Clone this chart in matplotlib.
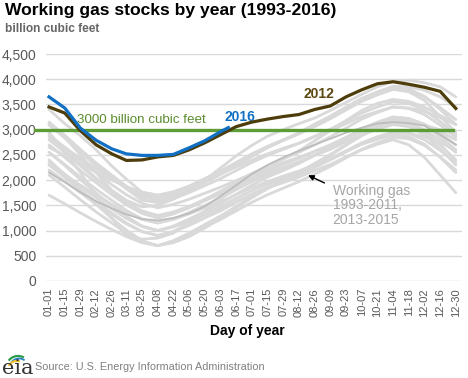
import matplotlib
matplotlib.use('Agg')
import matplotlib.pyplot as plt
import pandas as pd
from matplotlib.patches import Arc

plt.rcParams['font.family'] = ['Liberation Sans', 'DejaVu Sans']

# biweekly sample dates (also used as tick labels)
tick_dates = ['01-01', '01-15', '01-29', '02-12', '02-26', '03-11', '03-25', '04-08', '04-22',
              '05-06', '05-20', '06-03', '06-17', '07-01', '07-15', '07-29', '08-12', '08-26',
              '09-09', '09-23', '10-07', '10-21', '11-04', '11-18', '12-02', '12-16', '12-30']
dates_2016 = tick_dates[:12] + ['06-10']

# working gas in storage, billion cubic feet
gas_1993 = [2150, 1960, 1760, 1580, 1440, 1320, 1230, 1200, 1250, 1340, 1480, 1680, 1900, 2120,
            2300, 2450, 2580, 2700, 2820, 2940, 3040, 3120, 3150, 3130, 3080, 2900, 2700]
gas_1994 = [2300, 2060, 1810, 1570, 1350, 1150, 980, 900, 980, 1100, 1250, 1390, 1560, 1720,
            1860, 1990, 2110, 2250, 2400, 2560, 2720, 2850, 2950, 2930, 2860, 2740, 2600]
gas_1995 = [2550, 2310, 2060, 1820, 1600, 1400, 1230, 1150, 1220, 1330, 1450, 1570, 1710, 1850,
            1970, 2080, 2180, 2310, 2430, 2570, 2710, 2810, 2900, 2860, 2710, 2450, 2150]
gas_1996 = [2100, 1860, 1610, 1370, 1150, 950, 780, 700, 790, 920, 1070, 1220, 1390, 1560,
            1710, 1840, 1970, 2120, 2270, 2440, 2610, 2740, 2850, 2820, 2690, 2460, 2200]
gas_1997 = [2200, 1980, 1750, 1520, 1320, 1130, 980, 900, 980, 1150, 1320, 1480, 1640, 1790,
            1920, 2040, 2160, 2290, 2420, 2580, 2740, 2860, 2950, 2920, 2800, 2590, 2350]
gas_1998 = [2300, 2100, 1900, 1700, 1520, 1360, 1220, 1150, 1230, 1360, 1500, 1640, 1810, 1970,
            2110, 2240, 2360, 2500, 2650, 2810, 2980, 3100, 3200, 3180, 3100, 2960, 2800]
gas_1999 = [2800, 2550, 2280, 2020, 1780, 1570, 1390, 1300, 1370, 1480, 1610, 1730, 1880, 2020,
            2150, 2250, 2360, 2490, 2610, 2760, 2900, 3010, 3100, 3060, 2900, 2620, 2300]
gas_2000 = [2350, 2120, 1880, 1650, 1430, 1240, 1080, 1000, 1070, 1180, 1310, 1430, 1580, 1720,
            1850, 1950, 2060, 2190, 2310, 2460, 2600, 2710, 2800, 2700, 2450, 2100, 1750]
gas_2001 = [1700, 1530, 1350, 1180, 1020, 880, 760, 700, 800, 950, 1120, 1290, 1480, 1680,
            1850, 2000, 2150, 2320, 2490, 2690, 2880, 3030, 3150, 3140, 3090, 3000, 2900]
gas_2002 = [2900, 2650, 2390, 2150, 1910, 1710, 1540, 1450, 1520, 1620, 1740, 1860, 1990, 2130,
            2250, 2350, 2450, 2570, 2690, 2830, 2960, 3070, 3150, 3110, 2960, 2700, 2400]
gas_2003 = [2400, 2110, 1800, 1520, 1240, 1010, 800, 700, 760, 880, 1050, 1240, 1450, 1650,
            1830, 1990, 2150, 2330, 2510, 2700, 2890, 3040, 3150, 3120, 3000, 2790, 2550]
gas_2004 = [2550, 2290, 2010, 1740, 1500, 1280, 1090, 1000, 1090, 1230, 1380, 1540, 1720, 1900,
            2060, 2190, 2330, 2490, 2640, 2820, 3000, 3140, 3250, 3220, 3110, 2920, 2700]
gas_2005 = [2700, 2450, 2190, 1950, 1710, 1510, 1340, 1250, 1330, 1450, 1590, 1730, 1890, 2050,
            2190, 2310, 2430, 2570, 2700, 2850, 3020, 3150, 3250, 3220, 3090, 2860, 2600]
gas_2006 = [2650, 2490, 2320, 2160, 2000, 1870, 1760, 1700, 1770, 1880, 2000, 2120, 2260, 2400,
            2520, 2630, 2730, 2860, 2980, 3120, 3260, 3360, 3450, 3430, 3360, 3240, 3100]
gas_2007 = [3100, 2840, 2560, 2290, 2050, 1830, 1640, 1550, 1630, 1750, 1890, 2030, 2190, 2350,
            2490, 2610, 2730, 2870, 3010, 3170, 3330, 3450, 3550, 3520, 3390, 3160, 2900]
gas_2008 = [2900, 2620, 2320, 2040, 1780, 1550, 1350, 1250, 1340, 1470, 1620, 1780, 1950, 2130,
            2280, 2420, 2550, 2700, 2860, 3030, 3210, 3340, 3450, 3420, 3300, 3090, 2850]
gas_2009 = [2850, 2650, 2430, 2230, 2030, 1870, 1720, 1650, 1740, 1870, 2020, 2170, 2340, 2510,
            2660, 2790, 2920, 3070, 3220, 3390, 3560, 3690, 3800, 3770, 3650, 3440, 3200]
gas_2010 = [3150, 2890, 2610, 2340, 2100, 1880, 1690, 1600, 1690, 1830, 1980, 2140, 2320, 2500,
            2660, 2790, 2930, 3090, 3240, 3420, 3600, 3740, 3850, 3810, 3660, 3400, 3100]
gas_2011 = [3100, 2840, 2560, 2290, 2050, 1830, 1600, 1560, 1650, 1790, 1950, 2110, 2290, 2470,
            2640, 2790, 2940, 3110, 3270, 3450, 3620, 3750, 3860, 3850, 3780, 3650, 3450]
gas_2013 = [3400, 3120, 2880, 2600, 2280, 2020, 1760, 1700, 1760, 1880, 2030, 2180, 2350, 2520,
            2670, 2800, 2920, 3060, 3220, 3400, 3580, 3720, 3800, 3750, 3580, 3260, 2950]
gas_2014 = [2950, 2550, 2150, 1700, 1250, 900, 830, 850, 950, 1150, 1380, 1620, 1850, 2060,
            2250, 2420, 2580, 2780, 2980, 3180, 3380, 3520, 3600, 3560, 3450, 3280, 3100]
gas_2015 = [3100, 2850, 2500, 2150, 1800, 1600, 1470, 1500, 1620, 1800, 2000, 2240, 2480, 2690,
            2870, 3000, 3120, 3230, 3380, 3540, 3700, 3850, 3950, 3980, 3930, 3850, 3650]
gas_2012 = [3450, 3330, 2980, 2700, 2520, 2390, 2400, 2460, 2490, 2600, 2740, 2900, 3060, 3150,
            3210, 3260, 3300, 3400, 3470, 3650, 3790, 3910, 3950, 3900, 3840, 3760, 3420]
gas_2016 = [3650, 3430, 3030, 2790, 2620, 2520, 2490, 2490, 2510, 2640, 2780, 2960, 3040]

gray_years = [gas_1994, gas_1995, gas_1996, gas_1997, gas_1998, gas_1999, gas_2000, gas_2001,
              gas_2002, gas_2003, gas_2004, gas_2005, gas_2006, gas_2007, gas_2008, gas_2009,
              gas_2010, gas_2011, gas_2013, gas_2014, gas_2015]
ref_level = 3000
y_ticks = [0, 500, 1000, 1500, 2000, 2500, 3000, 3500, 4000, 4500]


def day_of_year(mmdd):
    return pd.to_datetime(['2001-' + d for d in mmdd]).dayofyear - 1


days = day_of_year(tick_dates)
days_2016 = day_of_year(dates_2016)

W, H = 468, 378
fig = plt.figure(figsize=(W / 100, H / 100), dpi=100)
ax = fig.add_axes([46 / W, 1 - 281 / H, 416 / W, 227 / H])

# gray bundle of past years
for vals in gray_years:
    ax.plot(days, vals, color='#d9d9d9', lw=2.0, solid_capstyle='round', zorder=2)
ax.plot(days, gas_1993, color='#bdbdbd', lw=1.3, zorder=2)

ax.axhline(ref_level, xmin=-0.027, xmax=0.978, color='#5e9c35', lw=2.4, clip_on=False, zorder=3)
ax.plot(days, gas_2012, color='#4d3d0b', lw=2.3, zorder=4)
ax.plot(days_2016, gas_2016, color='#1170c4', lw=2.3, zorder=5)

ax.set_xlim(-2.7, 368.5)
ax.set_ylim(0, 4500)
ax.set_xticks(days)
ax.set_xticklabels(tick_dates, rotation=90, fontsize=8, color='#595959')
ax.set_yticks(y_ticks)
ax.set_yticklabels([f'{v:,}' for v in y_ticks], fontsize=10, color='#595959')
ax.tick_params(length=0)
ax.tick_params(axis='y', pad=7)
ax.tick_params(axis='x', pad=5)
ax.grid(axis='y', color='#d9d9d9', lw=1)
ax.set_axisbelow(True)
for s in ax.spines.values():
    s.set_visible(False)

# labels in the plot
ax.text(25, 3190, '3000 billion cubic feet', color='#5a8d2e', fontsize=9.6, va='center')
ax.text(157, 3250, '2016', color='#1170c4', fontsize=10, fontweight='bold', va='center')
ax.text(227, 3710, '2012', color='#5c4812', fontsize=10, fontweight='bold', va='center')
ax.annotate('', xy=(229, 2120), xytext=(248, 1920),
            arrowprops=dict(arrowstyle='-|>', color='black', lw=1, mutation_scale=8))
ax.text(253, 1930, 'Working gas\n1993-2011,\n2013-2015', color='#a6a6a6', fontsize=10,
        va='top', linespacing=1.05)

# titles
fig.text(5 / W, 1 - 11 / H, 'Working gas stocks by year (1993-2016)', fontsize=12.6,
         fontweight='bold', va='center')
fig.text(5 / W, 1 - 29 / H, 'billion cubic feet', fontsize=8.6, fontweight='bold',
         color='#666666', va='center')
fig.text(247 / W, 1 - 331 / H, 'Day of year', fontsize=10, fontweight='bold', ha='center',
         va='center')
fig.text(35 / W, 1 - 367 / H, 'Source: U.S. Energy Information Administration', fontsize=7.8,
         color='#808080', va='center')

# eia logo
lax = fig.add_axes([0, 0, 34 / W, 34 / H])
lax.set_xlim(0, 34)
lax.set_ylim(0, 34)
lax.axis('off')
lax.text(2, 4, 'eia', fontsize=15, family='DejaVu Serif', color='#333333', va='baseline')
lax.add_patch(Arc((18, 12), 22, 20, theta1=55, theta2=150, color='#2e9b48', lw=1.6))
lax.add_patch(Arc((19, 11), 18, 17, theta1=50, theta2=155, color='#2a86c9', lw=1.3))
lax.add_patch(Arc((17, 9), 18, 16, theta1=70, theta2=160, color='#f2c12e', lw=1.6))

fig.savefig('out.png', dpi=100)
